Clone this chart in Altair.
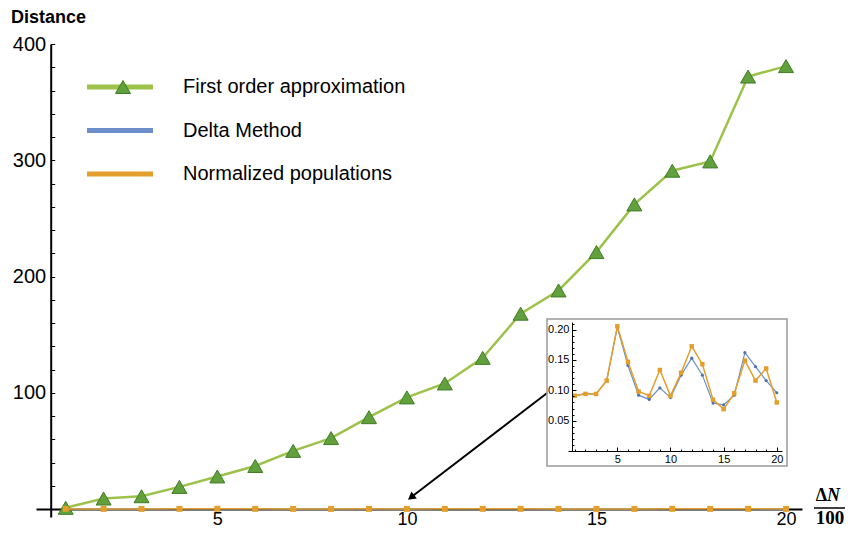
import altair as alt
import pandas as pd

# ---------------- data ----------------
x_values = list(range(1, 21))
first_order = [1, 9, 11, 19, 28, 37, 50, 61, 79, 96, 108, 130, 168, 188, 221, 262, 291, 299, 372, 381]
delta_method = [0.091, 0.095, 0.094, 0.116, 0.204, 0.141, 0.092, 0.085, 0.104, 0.088,
                0.125, 0.153, 0.125, 0.079, 0.076, 0.092, 0.162, 0.139, 0.116, 0.096]
normalized = [0.091, 0.094, 0.094, 0.116, 0.2055, 0.147, 0.098, 0.091, 0.1335, 0.091,
              0.129, 0.1725, 0.143, 0.0846, 0.069, 0.095, 0.149, 0.116, 0.136, 0.080]
series_names = ["First order approximation", "Delta Method", "Normalized populations"]
series_colors = ["#9CC24A", "#6C8FCB", "#E39E2B"]
main_x_ticks = [5, 10, 15, 20]
main_y_ticks = [100, 200, 300, 400]
main_x_minor = list(range(1, 21))
main_y_minor = list(range(20, 401, 20))
inset_x_ticks = [5, 10, 15, 20]
inset_y_ticks = [0.05, 0.10, 0.15, 0.20]
inset_x_minor = list(range(1, 21))
inset_y_minor = [round(0.01 * i, 2) for i in range(1, 22)]
arrow_x = [13.70, 10.11]
arrow_y = [99.8, 10.06]
y_title = "Distance"
x_title_top = ["Δ", "N"]
x_title_bottom = "100"

GREEN_LINE = "#9CC24A"
GREEN_FILL = "#62A03E"
GREEN_EDGE = "#3F7D24"
BLUE = "#6C8FCB"
ORANGE = "#E39E2B"
FONT = "Liberation Sans"

df = pd.DataFrame({"x": x_values, "first": first_order,
                   "delta": delta_method, "norm": normalized})
arrow_df = pd.DataFrame({"ax": arrow_x, "ay": arrow_y})
legend_df = pd.DataFrame({"name": series_names, "color": series_colors})


def axis(orient, offset, values, tick=0, labels=True, domain=True, fs=20,
         pad=5, fmt=None, dw=2, z=0, lb=None):
    kw = dict(orient=orient, offset=offset, values=values, labels=labels,
              domain=domain, domainColor="black", domainWidth=dw,
              labelFont=FONT, labelFontSize=fs, labelColor="black",
              labelPadding=pad, grid=False, title=None, labelFlush=False,
              zindex=z)
    if tick > 0:
        kw.update(ticks=True, tickSize=tick, tickColor="black", tickWidth=1)
    else:
        kw.update(ticks=False, tickSize=0)
    if fmt:
        kw["format"] = fmt
    if lb:
        kw["labelBaseline"] = lb
    return alt.Axis(**kw)


# ---------------- main plot ----------------
xs_main = alt.Scale(domain=[0.2166, 20.422], nice=False, zero=False)
ys_main = alt.Scale(domain=[-6.88, 400], nice=False, zero=False)

base = alt.Chart(df)

green_line = base.mark_line(color=GREEN_LINE, strokeWidth=2.5).encode(
    x=alt.X("x:Q", scale=xs_main,
            axis=axis("bottom", -8, main_x_ticks, fs=18, pad=15, lb="alphabetic")),
    y=alt.Y("first:Q", scale=ys_main,
            axis=axis("left", -14.7, main_y_ticks, fs=20, pad=5)),
)
main_ticks = base.mark_point(opacity=0).encode(
    x=alt.X("x:Q", scale=xs_main,
            axis=axis("bottom", -11, main_x_minor, tick=3, labels=False, domain=False)),
    y=alt.Y("first:Q", scale=ys_main,
            axis=axis("left", -18.7, main_y_minor, tick=4, labels=False, domain=False)),
)
green_pts = base.mark_point(shape="triangle-up", filled=True, size=225, opacity=1,
                            fill=GREEN_FILL, stroke=GREEN_EDGE, strokeWidth=1).encode(
    x=alt.X("x:Q", scale=xs_main, axis=None),
    y=alt.Y("first:Q", scale=ys_main, axis=None),
)
blue_line_m = base.mark_line(color=BLUE, strokeWidth=1.5).encode(
    x=alt.X("x:Q", scale=xs_main, axis=None),
    y=alt.Y("delta:Q", scale=ys_main, axis=None),
)
blue_pts_m = base.mark_point(filled=True, size=12, color=BLUE, opacity=1).encode(
    x=alt.X("x:Q", scale=xs_main, axis=None),
    y=alt.Y("delta:Q", scale=ys_main, axis=None),
)
orange_line_m = base.mark_line(color=ORANGE, strokeWidth=1.5).encode(
    x=alt.X("x:Q", scale=xs_main, axis=None),
    y=alt.Y("norm:Q", scale=ys_main, axis=None),
)
orange_pts_m = base.mark_square(size=36, color=ORANGE, opacity=1).encode(
    x=alt.X("x:Q", scale=xs_main, axis=None),
    y=alt.Y("norm:Q", scale=ys_main, axis=None),
)
arrow_line = alt.Chart(arrow_df).mark_line(color="black", strokeWidth=2).encode(
    x=alt.X("ax:Q", scale=xs_main, axis=None),
    y=alt.Y("ay:Q", scale=ys_main, axis=None),
)
arrow_head = alt.Chart(arrow_df.iloc[[1]]).mark_point(
    shape="triangle-up", angle=232.6, size=80, filled=True, color="black", opacity=1
).encode(
    x=alt.X("ax:Q", scale=xs_main, axis=None),
    y=alt.Y("ay:Q", scale=ys_main, axis=None),
)

main = alt.layer(green_line, main_ticks, green_pts, blue_line_m, blue_pts_m,
                 orange_line_m, orange_pts_m, arrow_line, arrow_head
                 ).resolve_axis(x="independent", y="independent")

# ---------------- inset ----------------
frame = alt.Chart(pd.DataFrame({"k": [0]})).mark_rect(
    fill="white", stroke="#9a9a9a", strokeWidth=1.5
).encode(x=alt.value(511), x2=alt.value(751), y=alt.value(275), y2=alt.value(422))

xs_in = alt.Scale(domain=[0.36, 20.49], range=[532, 746], nice=False, zero=False)
ys_in = alt.Scale(domain=[0, 0.2126], range=[407, 278], nice=False, zero=False)

in_axes = base.mark_point(opacity=0).encode(
    x=alt.X("x:Q", scale=xs_in,
            axis=axis("bottom", -66, inset_x_ticks, fs=11, pad=2, dw=1, z=1)),
    y=alt.Y("delta:Q", scale=ys_in,
            axis=axis("left", -536, inset_y_ticks, fs=11, pad=3, dw=1, fmt=".2f", z=1)),
)
in_major = base.mark_point(opacity=0).encode(
    x=alt.X("x:Q", scale=xs_in,
            axis=axis("bottom", -70, inset_x_ticks, tick=4, labels=False, domain=False, z=1)),
    y=alt.Y("delta:Q", scale=ys_in,
            axis=axis("left", -540, inset_y_ticks, tick=4, labels=False, domain=False, z=1)),
)
in_minor = base.mark_point(opacity=0).encode(
    x=alt.X("x:Q", scale=xs_in,
            axis=axis("bottom", -68, inset_x_minor, tick=2, labels=False, domain=False, z=1)),
    y=alt.Y("delta:Q", scale=ys_in,
            axis=axis("left", -538, inset_y_minor, tick=2, labels=False, domain=False, z=1)),
)
blue_line_i = base.mark_line(color=BLUE, strokeWidth=1.2).encode(
    x=alt.X("x:Q", scale=xs_in, axis=None),
    y=alt.Y("delta:Q", scale=ys_in, axis=None),
)
blue_pts_i = base.mark_point(filled=True, size=10, color="#4F72AA", opacity=1).encode(
    x=alt.X("x:Q", scale=xs_in, axis=None),
    y=alt.Y("delta:Q", scale=ys_in, axis=None),
)
orange_line_i = base.mark_line(color=ORANGE, strokeWidth=1.5).encode(
    x=alt.X("x:Q", scale=xs_in, axis=None),
    y=alt.Y("norm:Q", scale=ys_in, axis=None),
)
orange_pts_i = base.mark_square(size=20, color=ORANGE, opacity=1).encode(
    x=alt.X("x:Q", scale=xs_in, axis=None),
    y=alt.Y("norm:Q", scale=ys_in, axis=None),
)
inset = alt.layer(in_axes, in_major, in_minor, blue_line_i, blue_pts_i,
                  orange_line_i, orange_pts_i
                  ).resolve_axis(x="independent", y="independent")

# ---------------- legend ----------------
ys_leg = alt.Scale(type="point", domain=series_names, range=[43, 130], padding=0)
cs_leg = alt.Scale(domain=series_names, range=series_colors)
leg_base = alt.Chart(legend_df)
leg_lines = leg_base.mark_rule(strokeWidth=5).encode(
    x=alt.value(51), x2=alt.value(117),
    y=alt.Y("name:N", scale=ys_leg, axis=None),
    color=alt.Color("name:N", scale=cs_leg, legend=None),
)
leg_tri = leg_base.transform_filter(alt.datum.name == series_names[0]).mark_point(
    shape="triangle-up", filled=True, size=225, opacity=1,
    fill=GREEN_FILL, stroke=GREEN_EDGE, strokeWidth=1
).encode(x=alt.value(87), y=alt.Y("name:N", scale=ys_leg, axis=None))
leg_text = leg_base.mark_text(align="left", baseline="middle", font=FONT,
                              fontSize=20, color="black").encode(
    x=alt.value(147), y=alt.Y("name:N", scale=ys_leg, axis=None), text="name:N"
)
legend = alt.layer(leg_lines, leg_tri, leg_text)

# ---------------- titles ----------------
tdf = pd.DataFrame({"k": [0]})
title_y = alt.Chart(tdf).mark_text(align="left", baseline="alphabetic", font=FONT,
                                   fontSize=18, fontWeight="bold", color="black").encode(
    x=alt.value(-25), y=alt.value(-20.7), text=alt.value(y_title))
frac_d = alt.Chart(tdf).mark_text(align="right", baseline="alphabetic", font="Liberation Serif",
                                  fontSize=18, fontWeight="bold", color="black").encode(
    x=alt.value(791), y=alt.value(457), text=alt.value(x_title_top[0]))
frac_n = alt.Chart(tdf).mark_text(align="left", baseline="alphabetic", font="Liberation Serif",
                                  fontSize=18, fontWeight="bold", fontStyle="italic",
                                  color="black").encode(
    x=alt.value(791), y=alt.value(457), text=alt.value(x_title_top[1]))
frac_bar = alt.Chart(tdf).mark_rule(color="black", strokeWidth=1.5).encode(
    x=alt.value(778), x2=alt.value(809), y=alt.value(464))
frac_b = alt.Chart(tdf).mark_text(align="center", baseline="alphabetic", font="Liberation Serif",
                                  fontSize=19, fontWeight="bold", color="black").encode(
    x=alt.value(794), y=alt.value(480), text=alt.value(x_title_bottom))

chart = alt.layer(
    main, frame, inset, legend, title_y, frac_d, frac_n, frac_bar, frac_b
).resolve_scale(
    x="independent", y="independent", color="independent"
).properties(
    width=766, height=473,
    autosize=alt.AutoSizeParams(type="none"),
    padding={"left": 28, "top": 36, "right": 43, "bottom": 11},
).configure_view(stroke=None).configure_axis(grid=False)

chart.save("out.html", embed_options={"renderer": "svg", "actions": False})
